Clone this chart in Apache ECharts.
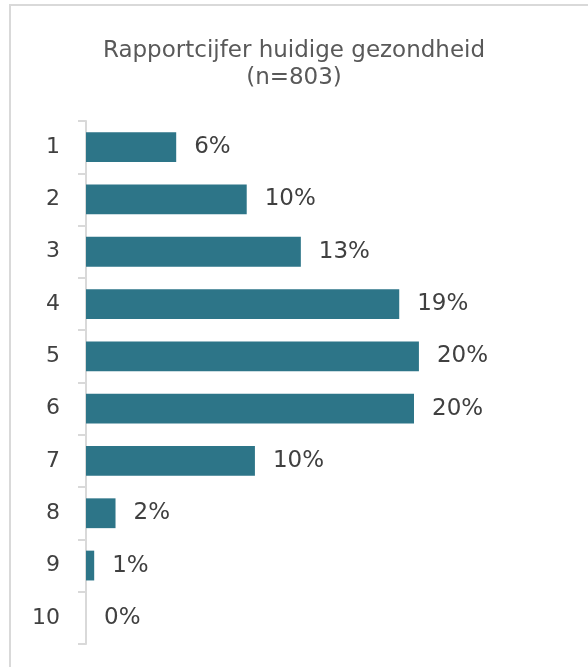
<!DOCTYPE html>
<html>
<head>
<meta charset="utf-8">
<script src="https://cdn.jsdelivr.net/npm/echarts@6/dist/echarts.min.js"></script>
<style>
  html, body { margin: 0; padding: 0; background: #fff; }
  #frame {
    position: absolute; left: 9px; top: 4px; width: 600px; height: 700px;
    border-left: 2px solid #d9d9d9; border-top: 2px solid #d9d9d9;
  }
  #chart { position: absolute; left: 0; top: 0; width: 588px; height: 667px; }
</style>
</head>
<body>
<div id="frame"></div>
<div id="chart"></div>
<script>
// Rating of current health (report mark 1-10), share of respondents in %
const categories = ['1', '2', '3', '4', '5', '6', '7', '8', '9', '10'];
const shares = [5.5, 9.8, 13.1, 19.1, 20.3, 20.0, 10.3, 1.8, 0.5, 0];
const titleLines = ['Rapportcijfer huidige gezondheid', '(n=803)'];

const FONT = 'DejaVu Sans';
const TEXT = '#404040';

const chart = echarts.init(document.getElementById('chart'), null, { renderer: 'canvas' });
chart.setOption({
  animation: false,
  title: {
    text: titleLines.join('\n'),
    left: 'center',
    top: 33,
    textStyle: { fontFamily: FONT, fontSize: 23, fontWeight: 'normal', color: '#595959', lineHeight: 27 }
  },
  grid: { left: 86, top: 121, width: 492, height: 523, containLabel: false },
  xAxis: {
    type: 'value', min: 0, max: 30, show: false
  },
  yAxis: {
    type: 'category',
    data: categories,
    inverse: true,
    axisLine: { show: true, lineStyle: { color: '#d9d9d9', width: 2 } },
    axisTick: { show: true, length: 8, lineStyle: { color: '#d9d9d9', width: 2 } },
    axisLabel: { fontFamily: FONT, fontSize: 22, color: TEXT, margin: 26, padding: [3, 0, 0, 0] },
    splitLine: { show: false }
  },
  series: [{
    type: 'bar',
    data: shares,
    barCategoryGap: '43%',
    itemStyle: { color: '#2d7588' },
    label: {
      show: true,
      position: 'right',
      distance: 18,
      fontFamily: FONT,
      fontSize: 23,
      color: TEXT,
      padding: [3, 0, 0, 0],
      formatter: p => Math.round(p.value) + '%'
    }
  }]
});
</script>
</body>
</html>
